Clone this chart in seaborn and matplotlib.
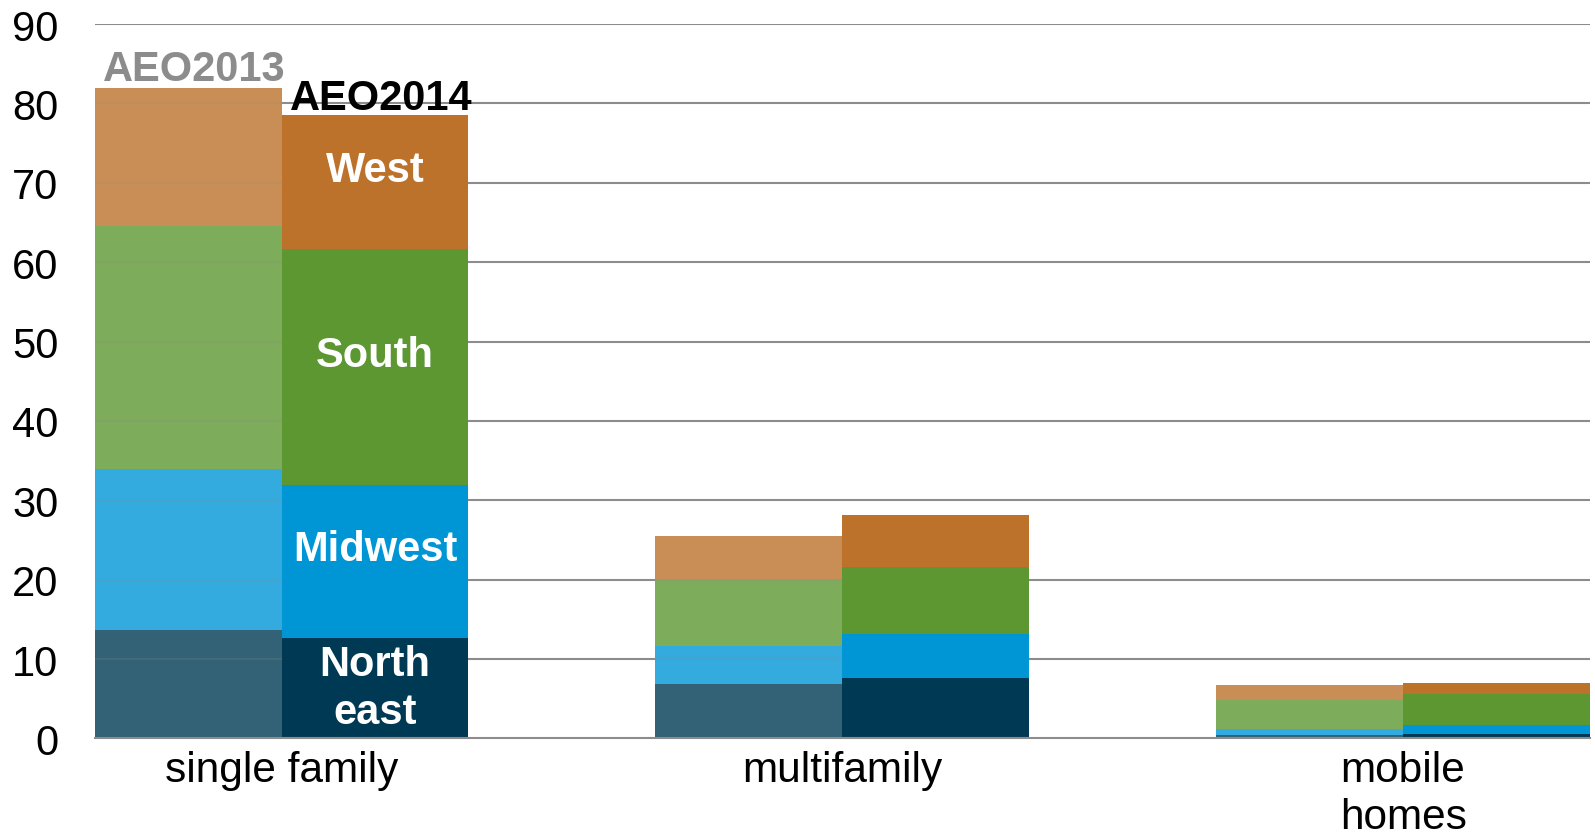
import matplotlib
matplotlib.use('Agg')
import matplotlib.pyplot as plt
import matplotlib.colors as mcolors
import seaborn as sns
import pandas as pd

# valeurs
categories = ["single family", "multifamily", "mobile\nhomes"]
cases = ["AEO2013", "AEO2014"]
regions = ["Northeast", "Midwest", "South", "West"]
region_labels = ["North\neast", "Midwest", "South", "West"]

aeo2013_northeast = [13.7, 6.85, 0.45]
aeo2013_midwest = [20.2, 4.75, 0.75]
aeo2013_south = [30.7, 8.4, 3.6]
aeo2013_west = [17.4, 5.5, 1.9]

aeo2014_northeast = [12.7, 7.6, 0.5]
aeo2014_midwest = [19.2, 5.6, 1.15]
aeo2014_south = [29.7, 8.4, 3.9]
aeo2014_west = [16.9, 6.5, 1.45]

region_colors = {"Northeast": "#003953", "Midwest": "#0096D6",
                 "South": "#5C9732", "West": "#BC722B"}

y_ticks = [0, 10, 20, 30, 40, 50, 60, 70, 80, 90]

series = {
    "AEO2013": [aeo2013_northeast, aeo2013_midwest, aeo2013_south, aeo2013_west],
    "AEO2014": [aeo2014_northeast, aeo2014_midwest, aeo2014_south, aeo2014_west],
}

rows = []
for case, layers in series.items():
    for ci, cat in enumerate(categories):
        cum = 0
        for region, vals in zip(regions, layers):
            cum += vals[ci]
            rows.append(dict(category=cat, case=case, region=region,
                             value=vals[ci], cum=cum, bottom=cum - vals[ci]))
df = pd.DataFrame(rows)


def faded(color, alpha=0.8):
    r, g, b = mcolors.to_rgb(color)
    return (1 - alpha * (1 - r), 1 - alpha * (1 - g), 1 - alpha * (1 - b))


sns.set_style('white')
plt.rcParams['font.family'] = ['Liberation Sans', 'DejaVu Sans']
plt.rcParams['text.color'] = 'black'
plt.rcParams['xtick.color'] = 'black'
plt.rcParams['ytick.color'] = 'black'

fig = plt.figure(figsize=(15.95, 8.37), dpi=100)
ax = fig.add_axes([0.0593, 0.1166, 0.9376, 0.8535])

grid_color = '#8c8c8c'
for y in y_ticks[1:]:
    ax.axhline(y, color=grid_color, lw=1.5, zorder=0)

# empilement : on dessine les cumuls du haut vers le bas
for region in reversed(regions):
    sub = df[df.region == region]
    pal = {"AEO2013": faded(region_colors[region]), "AEO2014": region_colors[region]}
    sns.barplot(data=sub, x='category', y='cum', hue='case', hue_order=cases,
                order=categories, palette=pal, saturation=1, width=2/3, gap=0,
                dodge=True, errorbar=None, linewidth=0, legend=False, ax=ax)

# grille visible à travers les barres AEO2013
totals_2013 = df[(df.case == "AEO2013") & (df.region == "West")]["cum"].tolist()
for i, tot in enumerate(totals_2013):
    ys = [y for y in y_ticks[1:] if y < tot]
    ax.hlines(ys, i - 1/3, i, color=grid_color, lw=1.5, alpha=0.2, zorder=5)

# étiquettes des régions dans la barre AEO2014 single family
sf = df[(df.case == "AEO2014") & (df.category == categories[0])]
for region, label in zip(regions, region_labels):
    r = sf[sf.region == region].iloc[0]
    off = 0 if "\n" in label else 1.5
    ax.text(1/6, r.bottom + r.value / 2 + off, label, ha='center', va='center',
            color='white', fontsize=30, fontweight='bold', linespacing=1.27, zorder=6)

tot13 = totals_2013[0]
tot14 = df[(df.case == "AEO2014") & (df.region == "West")]["cum"].tolist()[0]
ax.text(-1/6 + 0.012, tot13 + 0.9, "AEO2013", ha='center', va='baseline',
        color='#8c8c8c', fontsize=30, fontweight='bold', zorder=6)
ax.text(1/6 + 0.012, tot14 + 0.8, "AEO2014", ha='center', va='baseline',
        color='black', fontsize=30, fontweight='bold', zorder=6)

ax.set_xlim(-1/3, 2 + 1/3)
ax.set_ylim(0, 90)
ax.set_yticks(y_ticks)
ax.set_xlabel('')
ax.set_ylabel('')
ax.tick_params(axis='y', length=0, pad=26, labelsize=30)
ax.tick_params(axis='x', length=0, pad=8, labelsize=30.5)
for lab in ax.get_xticklabels():
    lab.set_linespacing(1.25)
for s in ['top', 'right', 'left']:
    ax.spines[s].set_visible(False)
ax.spines['bottom'].set_color(grid_color)
ax.spines['bottom'].set_linewidth(1.5)
ax.spines['bottom'].set_zorder(7)

fig.savefig('out.png', dpi=100)
